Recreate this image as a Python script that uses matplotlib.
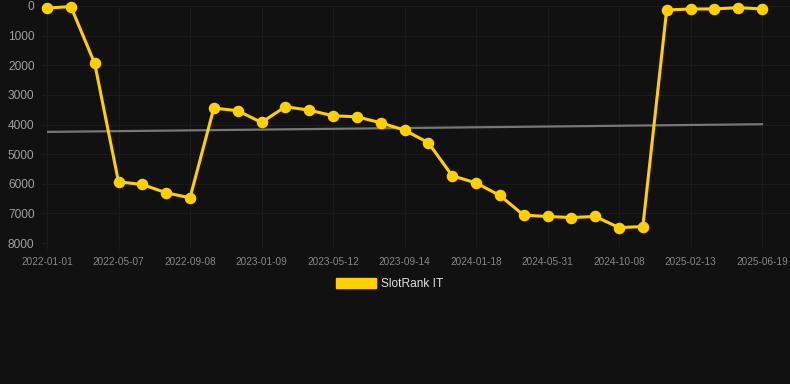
import matplotlib
matplotlib.use('Agg')
from matplotlib import pyplot as plt
from matplotlib.patches import Patch

# dates of each point (category axis, every 3rd label shown)
dates = ['2022-01-01', '2022-02-12', '2022-03-26', '2022-05-07', '2022-06-17',
         '2022-07-28', '2022-09-08', '2022-10-19', '2022-11-29', '2023-01-09',
         '2023-02-19', '2023-04-01', '2023-05-12', '2023-06-22', '2023-08-03',
         '2023-09-14', '2023-10-25', '2023-12-06', '2024-01-18', '2024-03-01',
         '2024-04-15', '2024-05-31', '2024-07-12', '2024-08-24', '2024-10-08',
         '2024-11-19', '2025-01-01', '2025-02-13', '2025-03-27', '2025-05-08',
         '2025-06-19']
rank = [70, 20, 1935, 5935, 6025, 6305, 6475, 3445, 3535, 3930,
        3400, 3515, 3705, 3740, 3940, 4190, 4615, 5730, 5970, 6395,
        7060, 7105, 7140, 7105, 7480, 7445, 135, 100, 100, 55, 100]
trend = [4250, 3990]  # start / end of trend line
yticks = [0, 1000, 2000, 3000, 4000, 5000, 6000, 7000, 8000]

bg = '#111111'
gold = '#FFD000'
grid = '#1b1b1b'

plt.rcParams['font.family'] = ['Liberation Sans', 'DejaVu Sans']

fig = plt.figure(figsize=(7.9, 3.84), dpi=100, facecolor=bg)
W, H = 790, 384
x0, x1 = 47, 762
ax = fig.add_axes([x0 / W, (H - 243) / H, (W - x0) / W, (243 - 6) / H])
ax.set_facecolor(bg)

n = len(rank)
xs = list(range(n))
step = (x1 - x0) / (n - 1)
ax.set_xlim(0, (W - x0) / step)
ax.set_ylim(8000, 0)

ax.plot([0, n - 1], trend, color='#777777', lw=1.6, zorder=2)
ax.plot(xs, rank, color=gold, lw=2.2, marker='o', ms=7.3,
        markerfacecolor=gold, markeredgecolor=gold, zorder=3, clip_on=False)

ax.set_yticks(yticks)
ax.set_yticklabels([str(v) for v in yticks])
ax.set_xticks(xs[::3])
ax.set_xticklabels(dates[::3])
ax.tick_params(axis='y', colors='#a0a0a0', labelsize=8.6, length=4, pad=5, color=grid)
ax.tick_params(axis='x', colors='#888888', labelsize=7.2, length=4, pad=6, color=grid)
ax.grid(True, color=grid, lw=0.8)
for s in ax.spines.values():
    s.set_visible(False)

fig.legend(handles=[Patch(facecolor=gold, edgecolor=gold)], labels=['SlotRank IT'],
           loc='center', bbox_to_anchor=((W / 2 - 5) / W, (H - 284) / H), frameon=False,
           handlelength=3.3, handleheight=1.0, handletextpad=0.45,
           fontsize=8.6, labelcolor='#e0e0e0')

fig.savefig('out.png', dpi=100, facecolor=bg)
